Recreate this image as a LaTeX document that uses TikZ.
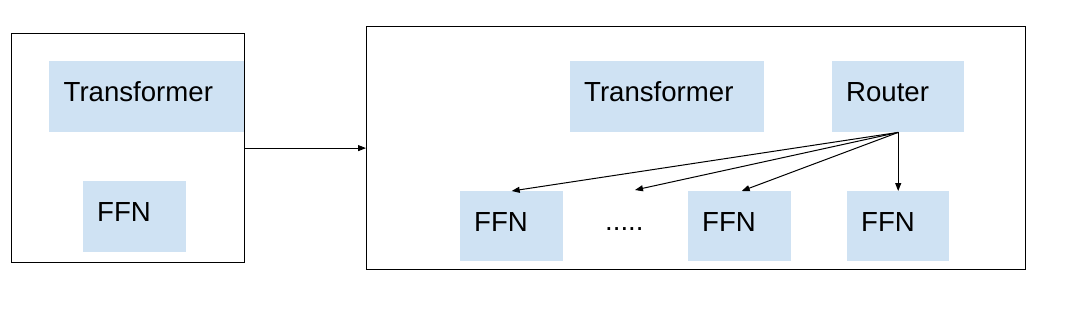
\documentclass[tikz,border=0pt]{standalone}
\usepackage{fontspec}
\setmainfont{Liberation Sans}
\usetikzlibrary{arrows.meta,positioning}
\definecolor{boxblue}{HTML}{CFE2F3}
\tikzset{
  outer/.style={draw=black,line width=1.2pt,fill=none,anchor=north west,inner sep=0pt},
  blk/.style={fill=boxblue,draw=none,anchor=north west,inner sep=0pt},
  lbl/.style={font=\fontsize{27.6}{30}\selectfont,inner sep=0pt,anchor=base west},
  conn/.style={line width=1pt,-{Triangle[length=8pt,width=6pt]}}
}
\begin{document}
\begin{tikzpicture}[x=1pt,y=-1pt]
\useasboundingbox (0,0) rectangle (1066,314);
% outer frames
\node[outer,minimum width=233pt,minimum height=229pt] (left) at (11,33) {};
\node[outer,minimum width=659pt,minimum height=243pt] (right) at (366,26) {};
% left content
\node[blk,minimum width=195pt,minimum height=71pt] (trL) at (49,61) {};
\node[blk,minimum width=103pt,minimum height=71pt] (ffnL) at (83,181) {};
% right content
\node[blk,minimum width=194pt,minimum height=71pt] (trR) at (570,61) {};
\node[blk,minimum width=132pt,minimum height=71pt] (router) at (832,61) {};
\node[blk,minimum width=103pt,minimum height=70pt] (ffn1) at (460,191) {};
\node[blk,minimum width=103pt,minimum height=70pt] (ffn2) at (688,191) {};
\node[blk,minimum width=102pt,minimum height=70pt] (ffn3) at (847,191) {};
% labels
\node[lbl] (tTrL) at ([xshift=14.5pt,yshift=-5pt]trL.west) {Transformer};
\node[lbl] (tFfnL) at ([xshift=14pt,yshift=-5pt]ffnL.west) {FFN};
\node[lbl] (tTrR) at ([xshift=14pt,yshift=-5pt]trR.west) {Transformer};
\node[lbl] (tRouter) at ([xshift=14pt,yshift=-5pt]router.west) {Router};
\node[lbl] (tF1) at ([xshift=14pt,yshift=-5pt]ffn1.west) {FFN};
\node[lbl] (tF2) at ([xshift=14pt,yshift=-5pt]ffn2.west) {FFN};
\node[lbl] (tF3) at ([xshift=14pt,yshift=-5pt]ffn3.west) {FFN};
\node[lbl] (dots) at (605,230) {.....};
\coordinate (dotsTop) at (635,190);
% connectors
\draw[conn] (left.east) -- (right.west);
\draw[conn] (router.south) -- (ffn1.north);
\draw[conn] (router.south) -- (dotsTop);
\draw[conn] (router.south) -- ([xshift=2pt]ffn2.north);
\draw[conn] (router.south) -- (ffn3.north);
\end{tikzpicture}
\end{document}
